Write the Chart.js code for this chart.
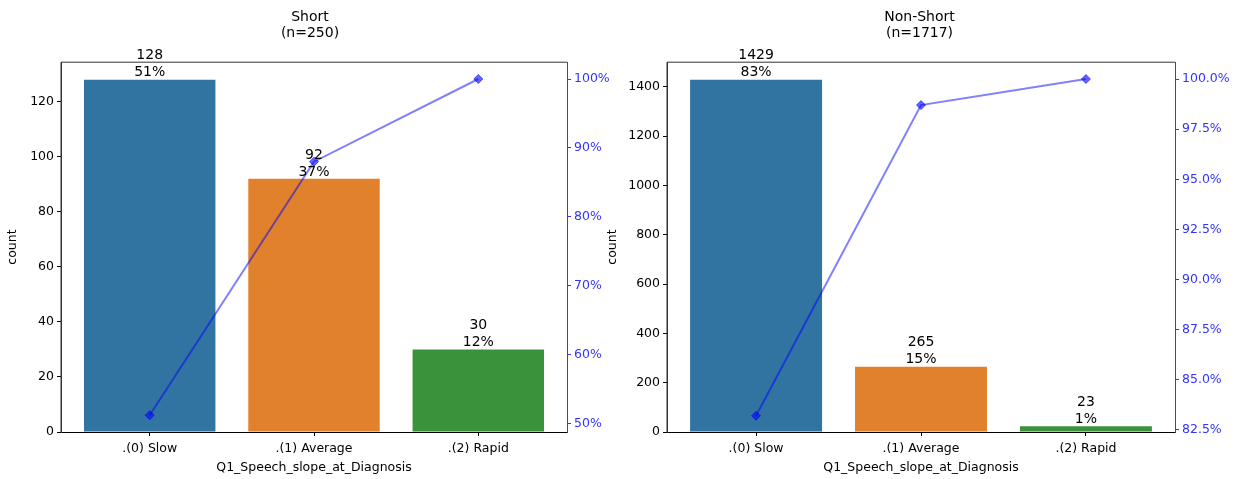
<!DOCTYPE html>
<html>
<head>
<meta charset="utf-8">
<script src="https://cdn.jsdelivr.net/npm/chart.js@4.4.1/dist/chart.umd.min.js"></script>
<style>
    body { margin: 0; background: #fff; }
    #wrap { position: relative; width: 1239px; height: 479px; }
    .box { position: absolute; top: 0; height: 479px; }
</style>
</head>
<body>
<div id="wrap">
    <div class="box" style="left:0;width:620px"><canvas id="chart-short"></canvas></div>
    <div class="box" style="left:600px;width:639px"><canvas id="chart-nonshort"></canvas></div>
</div>
<script>
// Datos
const categories = ['.(0) Slow', '.(1) Average', '.(2) Rapid'];
const barColors = ['#3274a1', '#e1812c', '#3a923a'];

const shortCounts = [128, 92, 30];
const shortPctLabels = ['51%', '37%', '12%'];
const shortCumPct = [51.2, 88.0, 100.0];
const shortCountTicks = [0, 20, 40, 60, 80, 100, 120];
const shortPctTicks = [50, 60, 70, 80, 90, 100];

const nonShortCounts = [1429, 265, 23];
const nonShortPctLabels = ['83%', '15%', '1%'];
const nonShortCumPct = [83.2, 98.7, 100.0];
const nonShortCountTicks = [0, 200, 400, 600, 800, 1000, 1200, 1400];
const nonShortPctTicks = [82.5, 85.0, 87.5, 90.0, 92.5, 95.0, 97.5, 100.0];

const FONT = 'DejaVu Sans';

// Etiquetas encima de las barras y marco del area
const barLabels = {
    id: 'barLabels',
    afterDatasetsDraw(chart, args, opts) {
        const ctx = chart.ctx;
        const meta = chart.getDatasetMeta(1);
        ctx.save();
        ctx.font = '14px "' + FONT + '"';
        ctx.fillStyle = '#000';
        ctx.textAlign = 'center';
        ctx.textBaseline = 'bottom';
        meta.data.forEach((bar, i) => {
            ctx.fillText(opts.pct[i], bar.x, bar.y);
            ctx.fillText(String(opts.counts[i]), bar.x, bar.y - 17);
        });
        const a = chart.chartArea;
        ctx.strokeStyle = '#333';
        ctx.lineWidth = 1;
        ctx.beginPath();
        ctx.moveTo(a.left, a.bottom);
        ctx.lineTo(a.left, a.top);
        ctx.lineTo(a.right, a.top);
        ctx.stroke();
        ctx.restore();
    }
};

function makeChart(id, title, counts, pct, cum, countTicks, pctTicks, ranges, widths, pctFmt) {
    const ctx = document.getElementById(id);
    return new Chart(ctx, {
        type: 'bar',
        data: {
            datasets: [{
                type: 'line',
                data: cum.map((v, i) => ({ x: i, y: v })),
                yAxisID: 'y1',
                order: 0,
                borderColor: 'rgba(0,0,255,0.5)',
                borderWidth: 2,
                pointStyle: 'rectRot',
                pointRadius: 4.5,
                pointBackgroundColor: 'rgba(0,0,255,0.6)',
                pointBorderColor: 'rgba(0,0,255,0.6)',
                pointBorderWidth: 1
            }, {
                data: counts.map((v, i) => ({ x: i, y: v })),
                yAxisID: 'y',
                order: 1,
                backgroundColor: barColors,
                barPercentage: 0.8,
                categoryPercentage: 1.0
            }]
        },
        options: {
            responsive: true,
            maintainAspectRatio: false,
            animation: false,
            layout: { padding: 0 },
            plugins: {
                legend: { display: false },
                tooltip: { enabled: false },
                title: {
                    display: true,
                    text: title,
                    color: '#000',
                    font: { family: FONT, size: 14, weight: 'normal', lineHeight: 1.15 },
                    padding: { top: 9, bottom: 21 }
                },
                barLabels: { counts: counts, pct: pct }
            },
            scales: {
                x: {
                    type: 'linear',
                    min: -0.54, max: 2.54,
                    offset: false,
                    afterBuildTicks: s => { s.ticks = categories.map((c, i) => ({ value: i })); },
                    grid: { offset: false, drawOnChartArea: false, drawTicks: true, tickLength: 4,
                            color: '#000', tickColor: '#000' },
                    border: { color: '#000' },
                    ticks: { color: '#000', font: { family: FONT, size: 12.5 }, padding: 5,
                             callback: v => categories[v] },
                    title: { display: true, text: 'Q1_Speech_slope_at_Diagnosis', color: '#000',
                             font: { family: FONT, size: 12.5 }, padding: { top: 0, bottom: 4 } },
                    afterFit: s => { s.height = 47; }
                },
                y: {
                    position: 'left',
                    min: ranges[0], max: ranges[1],
                    afterBuildTicks: s => { s.ticks = countTicks.map(v => ({ value: v })); },
                    grid: { drawOnChartArea: false, tickLength: 4, color: '#000' },
                    border: { color: '#333' },
                    ticks: { color: '#000', font: { family: FONT, size: 12.5 }, padding: 3,
                             callback: v => String(v) },
                    title: { display: true, text: 'count', color: '#000',
                             font: { family: FONT, size: 12.5 }, padding: { top: 5, bottom: 0 } },
                    afterFit: s => { s.width = widths[0]; }
                },
                y1: {
                    position: 'right',
                    min: ranges[2], max: ranges[3],
                    afterBuildTicks: s => { s.ticks = pctTicks.map(v => ({ value: v })); },
                    grid: { drawOnChartArea: false, tickLength: 4, color: '#3333ff' },
                    border: { color: '#b22222' },
                    ticks: { color: '#3333ff', font: { family: FONT, size: 12.5 }, padding: 3,
                             callback: v => v.toFixed(pctFmt) + '%' },
                    afterFit: s => { s.width = widths[1]; }
                }
            }
        },
        plugins: [barLabels]
    });
}

makeChart('chart-short', ['Short', '(n=250)'], shortCounts, shortPctLabels, shortCumPct,
    shortCountTicks, shortPctTicks, [0, 134.4, 48.76, 102.44], [61, 53], 0);
makeChart('chart-nonshort', ['Non-Short', '(n=1717)'], nonShortCounts, nonShortPctLabels, nonShortCumPct,
    nonShortCountTicks, nonShortPctTicks, [0, 1500.45, 82.39, 100.84], [67, 64], 1);
</script>
</body>
</html>
